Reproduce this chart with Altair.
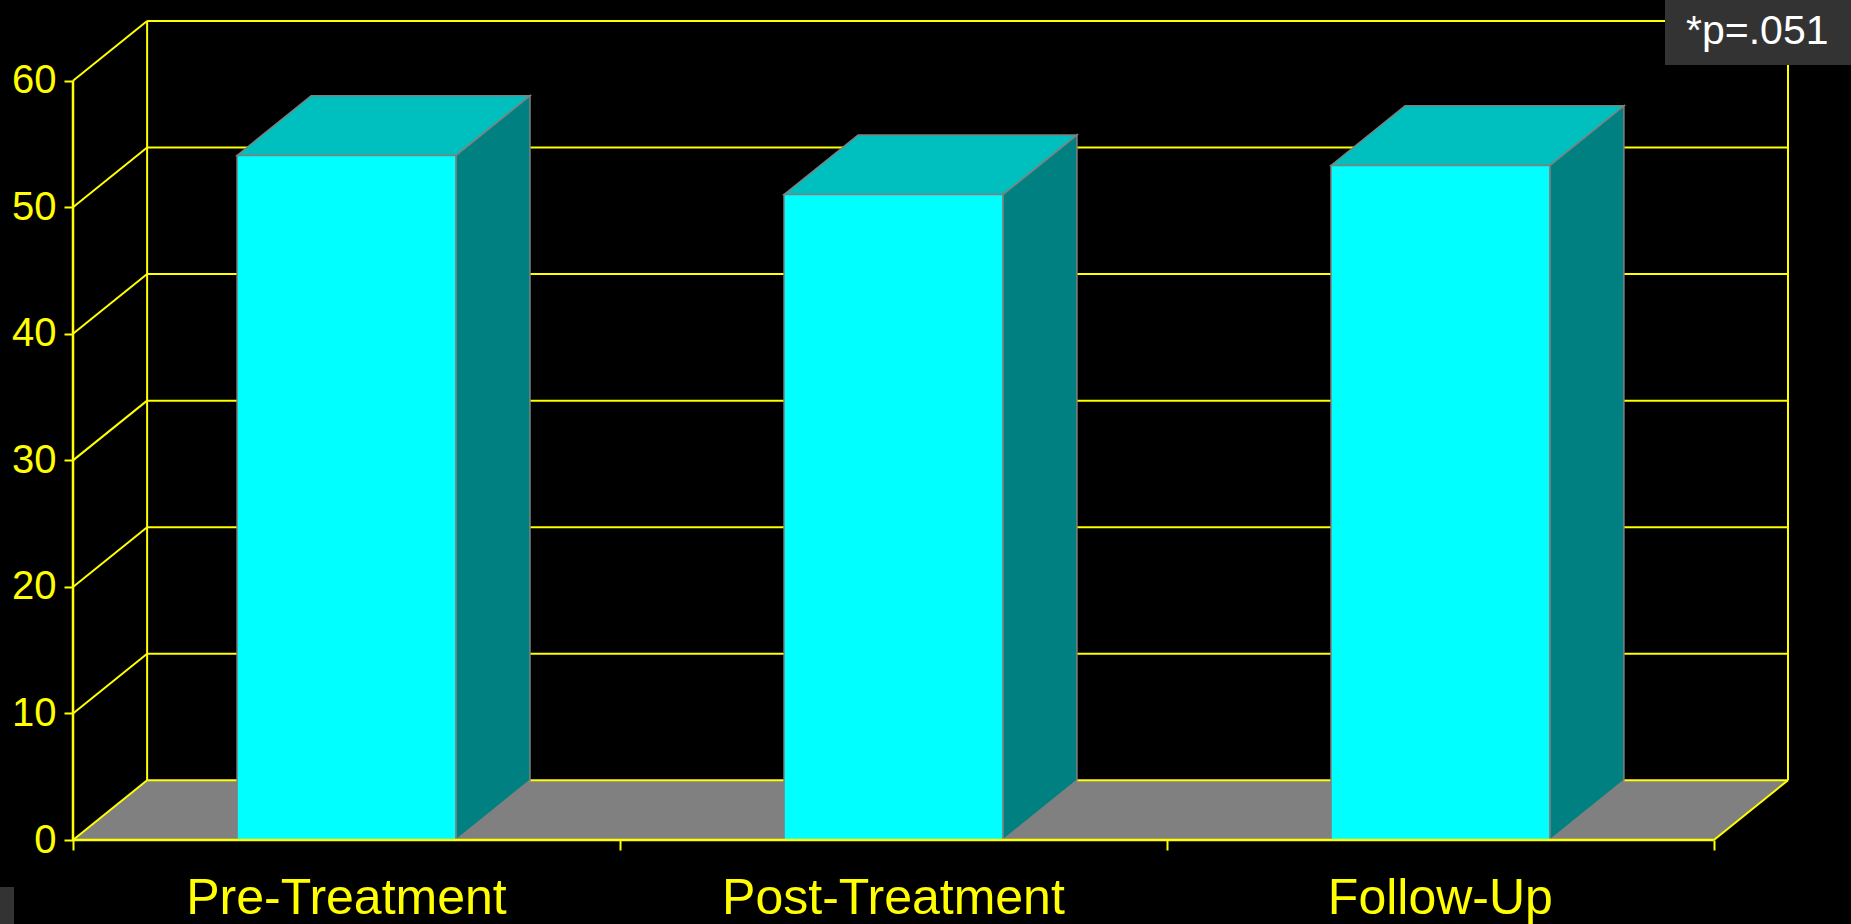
import altair as alt
import pandas as pd

# ---- data ----
categories = ["Pre-Treatment", "Post-Treatment", "Follow-Up"]
values = [54.1, 51.0, 53.3]
y_ticks = [0, 10, 20, 30, 40, 50, 60]
note = "*p=.051"

# ---- 3D styling constants ----
DX = 0.1355      # depth offset in category units
DY = 4.72        # depth offset in value units
HALF = 0.2       # half bar width (category units)
N = len(categories)
YMAX = y_ticks[-1]

YELLOW = "#FFFF00"
FONT = "Liberation Sans"

# front faces
front = pd.DataFrame({
    "cat": categories,
    "x0": [i + 0.5 - HALF for i in range(N)],
    "x1": [i + 0.5 + HALF for i in range(N)],
    "y0": [0.0] * N,
    "v": values,
})

# top faces (parallelograms as areas)
top_rows = []
side_rows = []
for i, (c, v) in enumerate(zip(categories, values)):
    a, b = i + 0.5 - HALF, i + 0.5 + HALF
    top_rows += [
        {"cat": c, "x": a, "lo": v, "hi": v},
        {"cat": c, "x": a + DX, "lo": v, "hi": v + DY},
        {"cat": c, "x": b, "lo": v, "hi": v + DY},
        {"cat": c, "x": b + DX, "lo": v + DY, "hi": v + DY},
    ]
    side_rows += [
        {"cat": c, "x": b, "lo": 0.0, "hi": v},
        {"cat": c, "x": b + DX, "lo": DY, "hi": v + DY},
    ]
top = pd.DataFrame(top_rows)
side = pd.DataFrame(side_rows)

floor = pd.DataFrame({
    "x": [0.0, DX, float(N), N + DX],
    "lo": [0.0, 0.0, 0.0, DY],
    "hi": [0.0, DY, DY, DY],
})

# wall grid lines
grid_rows = []
for t in y_ticks:
    grid_rows.append({"x": DX, "y": t + DY, "x2": N + DX, "y2": t + DY})   # back wall
    grid_rows.append({"x": 0.0, "y": t, "x2": DX, "y2": t + DY})           # left wall
grid_rows.append({"x": DX, "y": DY, "x2": DX, "y2": YMAX + DY})
grid_rows.append({"x": N + DX, "y": DY, "x2": N + DX, "y2": YMAX + DY})
grid_rows.append({"x": float(N), "y": 0.0, "x2": N + DX, "y2": DY})
grid = pd.DataFrame(grid_rows)

front_axes = pd.DataFrame({
    "x": [0.0, 0.0], "y": [0.0, 0.0],
    "x2": [0.0, float(N)], "y2": [float(YMAX), 0.0],
})

labels = pd.DataFrame({"cat": categories, "x": [i + 0.5 for i in range(N)], "y": [0.0] * N})

xs = alt.Scale(domain=[0, N + DX], nice=False, zero=False)
ys = alt.Scale(domain=[0, YMAX + DY], nice=False, zero=False)

x_axis = alt.Axis(values=list(range(N + 1)), labels=False, domain=False, grid=False,
                  tickColor=YELLOW, tickSize=10, tickWidth=2, title=None)
y_axis = alt.Axis(values=y_ticks, domain=False, grid=False, tickColor=YELLOW, tickSize=9,
                  tickWidth=2, labelColor=YELLOW, labelFontSize=40, labelFont=FONT,
                  labelPadding=8, labelFlush=False, labelOverlap=False, title=None)


def X(f):
    return alt.X(f, type="quantitative", scale=xs, axis=x_axis)


def Y(f):
    return alt.Y(f, type="quantitative", scale=ys, axis=y_axis)


floor_layer = alt.Chart(floor).mark_area(fill="#808080", strokeWidth=0).encode(
    x=X("x"), y=Y("lo"), y2="hi")

grid_layer = alt.Chart(grid).mark_rule(color=YELLOW, strokeWidth=2).encode(
    x=X("x"), y=Y("y"), x2="x2", y2="y2")

side_layer = alt.Chart(side).mark_area(fill="#008080", stroke="#808080", strokeWidth=1.5).encode(
    x=X("x"), y=Y("lo"), y2="hi", detail="cat:N")

top_layer = alt.Chart(top).mark_area(fill="#00BFBF", stroke="#808080", strokeWidth=1.5).encode(
    x=X("x"), y=Y("lo"), y2="hi", detail="cat:N")

front_layer = alt.Chart(front).mark_rect(fill="#00FFFF", stroke="#808080", strokeWidth=1.5).encode(
    x=X("x0"), x2="x1", y=Y("y0"), y2="v")

axes_layer = alt.Chart(front_axes).mark_rule(color=YELLOW, strokeWidth=2.5).encode(
    x=X("x"), y=Y("y"), x2="x2", y2="y2")

label_layer = alt.Chart(labels).mark_text(
    font=FONT, fontSize=50, color=YELLOW, baseline="alphabetic", align="center", dy=74
).encode(x=X("x"), y=Y("y"), text="cat:N")

note_df = pd.DataFrame({"note": [note]})
note_box = alt.Chart(note_df).mark_rect(fill="#333333").encode(
    x=alt.value(1592), x2=alt.value(1778), y=alt.value(-21), y2=alt.value(44))
note_text = alt.Chart(note_df).mark_text(
    font=FONT, fontSize=41, color="#FFFFFF", align="left", baseline="alphabetic"
).encode(x=alt.value(1613), y=alt.value(23), text="note:N")
corner_box = alt.Chart(note_df).mark_rect(fill="#333333").encode(
    x=alt.value(-73), x2=alt.value(-59), y=alt.value(866), y2=alt.value(903))

chart = alt.layer(
    floor_layer, grid_layer, side_layer, top_layer, front_layer, axes_layer,
    label_layer, note_box, note_text, corner_box
).properties(
    width=1715, height=819,
    padding={"left": 73, "top": 21, "right": 63, "bottom": 84},
    autosize=alt.AutoSizeParams(type="none"),
    background="#000000",
).configure_view(strokeWidth=0)

chart.save("out.html", embed_options={"renderer": "svg", "actions": False})
